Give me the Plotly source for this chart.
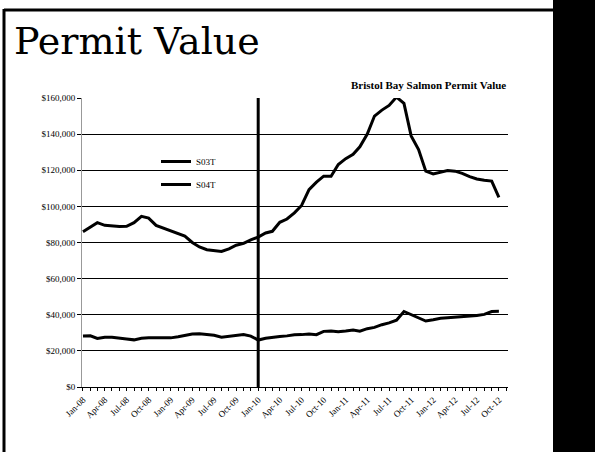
import plotly.graph_objects as go
import pandas as pd

# Monthly data, Jan-08 .. Oct-12
months = pd.date_range("2008-01-01", "2012-10-01", freq="MS")

s03t = [
    86000, 88500, 91000, 89500, 89000, 88800, 89000, 91000, 94500, 93500, 89500, 88000,
    86500, 85000, 83500, 80000, 77500, 76000, 75500, 75000, 76500, 78500, 79500, 81500,
    83000, 85300, 86200, 91200, 93000, 96400, 100500, 109300, 113400, 116700, 116700, 123200,
    126400, 128800, 133000, 140000, 150000, 153300, 155900, 160500, 157000, 139000, 131500, 119500,
    118000, 119000, 119800, 119500, 118300, 116500, 115200, 114500, 114000, 105000,
]
s04t = [
    28200, 28300, 26900, 27600, 27500, 27200, 26600, 26100, 27000, 27200, 27300, 27200,
    27200, 27800, 28500, 29300, 29500, 29000, 28600, 27600, 28000, 28800, 29000, 28200,
    26000, 27000, 27600, 28000, 28300, 28900, 29000, 29400, 29000, 30800, 31000, 30600,
    31000, 31500, 30900, 32300, 33000, 34500, 35500, 37000, 41800, 40200, 38500, 36500,
    37200, 38000, 38300, 38600, 38800, 39200, 39600, 40200, 41800, 41900,
]
series_names = ["S03T", "S04T"]
divider_month = "2010-01-01"

W, H = 595, 452
L, R, T, B = 82, 508, 98, 387  # plot area in pixels


def px(x):
    return (x - L) / (R - L)


def py(y):
    return (B - y) / (B - T)


fig = go.Figure()
for name, vals in zip(series_names, [s03t, s04t]):
    fig.add_trace(go.Scatter(
        x=months, y=vals, mode="lines", name=name, legendgroup=name,
        line=dict(color="black", width=3),
    ))

# vertical divider at Jan-10
fig.add_shape(type="line", xref="x", yref="paper", x0=divider_month, x1=divider_month,
              y0=0, y1=1.0, line=dict(color="black", width=3))

# slide frame
frame = dict(xref="paper", yref="paper", layer="above")
fig.add_shape(type="rect", x0=px(553), x1=px(600), y0=py(460), y1=py(-5),
              fillcolor="black", line=dict(width=0), **frame)
fig.add_shape(type="line", x0=px(4), x1=px(4), y0=py(9), y1=py(460),
              line=dict(color="black", width=3), **frame)
fig.add_shape(type="line", x0=px(4), x1=px(554), y0=py(10), y1=py(10),
              line=dict(color="black", width=3), **frame)

fig.add_annotation(text="<b>Bristol Bay Salmon Permit Value</b>", xref="paper", yref="paper",
                   x=1.0, y=py(85), xanchor="right", yanchor="middle", showarrow=False,
                   font=dict(family="Liberation Serif", size=11, color="black"))

fig.update_layout(
    width=W, height=H,
    margin=dict(l=L, r=W - R, t=T, b=H - B),
    plot_bgcolor="white", paper_bgcolor="white",
    title=dict(text="Permit Value", x=14 / W, xanchor="left", y=1 - 27 / H, yanchor="top",
               font=dict(family="DejaVu Serif", size=38, color="black")),
    xaxis=dict(
        range=["2007-12-28", "2012-11-08"],
        tick0="2008-01-01", dtick="M3", tickformat="%b-%y", tickangle=-45,
        ticks="outside", ticklen=3, tickcolor="black",
        minor=dict(dtick="M1", ticks="outside", ticklen=3, tickcolor="black"),
        showgrid=False, showline=True, linecolor="black", linewidth=1,
        tickfont=dict(family="Liberation Serif", size=9, color="black"),
    ),
    yaxis=dict(
        range=[0, 160000], dtick=20000, tickformat="$,.0f",
        showgrid=True, gridcolor="black", gridwidth=1,
        ticks="outside", ticklen=4, tickcolor="black",
        showline=True, linecolor="#999999", linewidth=1, zeroline=False,
        tickfont=dict(family="Liberation Serif", size=9, color="black"),
    ),
    showlegend=True,
    legend=dict(x=px(156), y=py(147), xanchor="left", yanchor="top",
                bgcolor="rgba(0,0,0,0)", tracegroupgap=4, traceorder="grouped",
                font=dict(family="Liberation Serif", size=9, color="black")),
)

fig.write_html("out.html", config={"displayModeBar": False},
               post_script="document.body.style.margin = '0'; "
                           "document.documentElement.style.overflow = 'hidden'; "
                           "document.documentElement.style.scrollbarWidth = 'none'; "
                           "document.body.style.scrollbarWidth = 'none'; "
                           "document.body.style.overflow = 'hidden';")
